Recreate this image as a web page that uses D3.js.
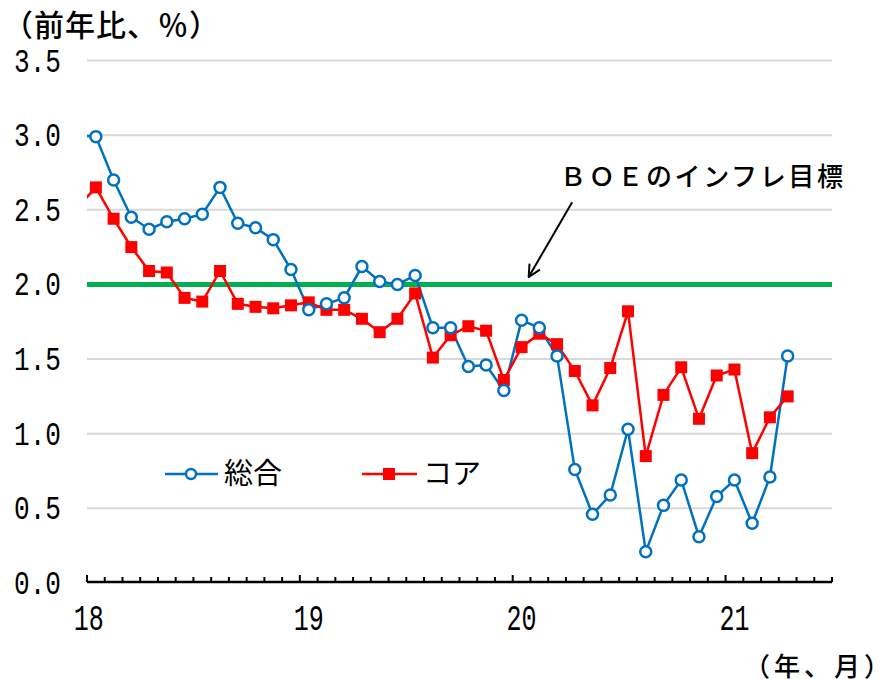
<!DOCTYPE html>
<html>
  <head>
    <meta charset="utf-8">
    <title>UK CPI</title>
    <script src="https://d3js.org/d3.v7.min.js"></script>
    <style>
      body { margin: 0; background: #fff; }
      .jp { font-family: "Noto Sans CJK JP", sans-serif; fill: #000; }
      .num { font-family: "Liberation Mono", monospace; fill: #000; }
    </style>
  </head>
  <body>
    <svg width="891" height="679"></svg>
    <script>
      // Months shown on the axis: Jan 2018 .. Jun 2021 (42 categories)
      var monthCount = 42;
      var yearLabels = ["18", "19", "20", "21"];
      var yTicks = [0, 0.5, 1.0, 1.5, 2.0, 2.5, 3.0, 3.5];

      // first value is Dec 2017 (drawn outside the plot and clipped)
      var headline = [3.00,
        2.99, 2.70, 2.45, 2.37, 2.42, 2.44, 2.47, 2.65, 2.41, 2.38, 2.30, 2.10,
        1.83, 1.87, 1.91, 2.12, 2.02, 2.00, 2.06, 1.71, 1.71, 1.45, 1.46, 1.29,
        1.76, 1.71, 1.52, 0.76, 0.46, 0.59, 1.03, 0.21, 0.52, 0.69, 0.31, 0.58,
        0.69, 0.40, 0.71, 1.52];
      var core = [2.52,
        2.65, 2.44, 2.25, 2.09, 2.08, 1.91, 1.885, 2.09, 1.87, 1.85, 1.84, 1.86,
        1.88, 1.83, 1.83, 1.77, 1.68, 1.77, 1.94, 1.51, 1.66, 1.72, 1.69, 1.36,
        1.58, 1.67, 1.60, 1.42, 1.19, 1.44, 1.82, 0.85, 1.26, 1.445, 1.10, 1.39,
        1.43, 0.87, 1.11, 1.25];
      var boeTarget = 2.0;

      var plotL = 87, plotR = 832, plotT = 60.5, plotB = 583;
      var svg = d3.select("svg");

      // index -1 = Dec 2017, 0 = Jan 2018 ...
      var x = d3.scaleLinear().domain([-0.5, monthCount - 0.5]).range([plotL, plotR]);
      var y = d3.scaleLinear().domain([0, 3.5]).range([plotB, plotT]);

      var defs = svg.append("defs");
      defs.append("clipPath").attr("id", "plot")
        .append("rect").attr("x", plotL).attr("y", 0).attr("width", plotR - plotL).attr("height", plotB);

      // gridlines
      svg.append("g").selectAll("line").data(yTicks.filter(function(d) { return d > 0; }))
        .enter().append("line")
        .attr("x1", plotL).attr("x2", plotR)
        .attr("y1", function(d) { return y(d); }).attr("y2", function(d) { return y(d); })
        .attr("stroke", "#d9d9d9").attr("stroke-width", 2);

      // y labels
      svg.append("g").selectAll("text").data(yTicks)
        .enter().append("text").attr("class", "num")
        .attr("x", 61).attr("y", function(d) { return y(d) + 11; })
        .attr("text-anchor", "end")
        .attr("font-size", 33)
        .attr("textLength", 47).attr("lengthAdjust", "spacingAndGlyphs")
        .text(function(d) { return d.toFixed(1); });

      // BOE target line
      svg.append("line")
        .attr("x1", plotL).attr("x2", plotR)
        .attr("y1", y(boeTarget)).attr("y2", y(boeTarget))
        .attr("stroke", "#00b050").attr("stroke-width", 5);

      // x axis
      var ax = svg.append("g");
      ax.append("line").attr("x1", plotL).attr("x2", plotR)
        .attr("y1", plotB - 1).attr("y2", plotB - 1)
        .attr("stroke", "#000").attr("stroke-width", 2.5);
      ax.selectAll("line.tk").data(d3.range(monthCount + 1))
        .enter().append("line").attr("class", "tk")
        .attr("x1", function(i) { return x(i - 0.5); }).attr("x2", function(i) { return x(i - 0.5); })
        .attr("y1", plotB - 1)
        .attr("y2", function(i) { return plotB - 1 - (i % 12 === 0 ? 7 : 5); })
        .attr("stroke", "#000").attr("stroke-width", 2);
      ax.selectAll("text").data(yearLabels)
        .enter().append("text").attr("class", "num")
        .attr("x", function(d, i) { return x(i * 12) - (i === 0 ? 7 : 0); })
        .attr("y", 630)
        .attr("text-anchor", "middle")
        .attr("font-size", 36)
        .attr("textLength", 30).attr("lengthAdjust", "spacingAndGlyphs")
        .text(function(d) { return d; });

      var line = d3.line()
        .x(function(d, i) { return x(i - 1); })
        .y(function(d) { return y(d); });

      var plot = svg.append("g").attr("clip-path", "url(#plot)");

      plot.append("path").datum(headline)
        .attr("d", line).attr("fill", "none")
        .attr("stroke", "#0070c0").attr("stroke-width", 2.5);
      plot.append("path").datum(core)
        .attr("d", line).attr("fill", "none")
        .attr("stroke", "#ff0000").attr("stroke-width", 2.5);

      plot.selectAll("rect.core").data(core)
        .enter().append("rect").attr("class", "core")
        .attr("x", function(d, i) { return x(i - 1) - 6; })
        .attr("y", function(d) { return y(d) - 6; })
        .attr("width", 12).attr("height", 12)
        .attr("fill", "#ff0000");

      plot.selectAll("circle.head").data(headline)
        .enter().append("circle").attr("class", "head")
        .attr("cx", function(d, i) { return x(i - 1); })
        .attr("cy", function(d) { return y(d); })
        .attr("r", 5.5)
        .attr("fill", "#fff").attr("stroke", "#0070c0").attr("stroke-width", 2.5);

      // legend
      var lg = svg.append("g");
      lg.append("line").attr("x1", 165).attr("x2", 218).attr("y1", 474).attr("y2", 474)
        .attr("stroke", "#0070c0").attr("stroke-width", 2.5);
      lg.append("circle").attr("cx", 191).attr("cy", 474).attr("r", 5)
        .attr("fill", "#fff").attr("stroke", "#0070c0").attr("stroke-width", 2.5);
      lg.append("text").attr("class", "jp").attr("x", 224).attr("y", 474)
        .attr("dy", "0.36em").attr("font-size", 29).text("総合");
      lg.append("line").attr("x1", 362).attr("x2", 417).attr("y1", 474).attr("y2", 474)
        .attr("stroke", "#ff0000").attr("stroke-width", 2.5);
      lg.append("rect").attr("x", 383).attr("y", 468).attr("width", 12).attr("height", 12)
        .attr("fill", "#ff0000");
      lg.append("text").attr("class", "jp").attr("x", 423).attr("y", 474)
        .attr("dy", "0.36em").attr("font-size", 29).text("コア");

      // annotation
      defs.append("marker").attr("id", "arr")
        .attr("viewBox", "0 0 14 14").attr("refX", 13).attr("refY", 7)
        .attr("markerWidth", 14).attr("markerHeight", 14)
        .attr("markerUnits", "userSpaceOnUse").attr("orient", "auto")
        .append("path").attr("d", "M1,1 L13,7 L1,13").attr("fill", "none")
        .attr("stroke", "#000").attr("stroke-width", 2);
      svg.append("line")
        .attr("x1", x(26.85)).attr("y1", y(2.55))
        .attr("x2", x(24.4)).attr("y2", y(2.05))
        .attr("stroke", "#000").attr("stroke-width", 2)
        .attr("marker-end", "url(#arr)");
      svg.append("text").attr("class", "jp")
        .attr("x", 560).attr("y", 177).attr("dy", "0.36em")
        .attr("font-size", 26).attr("font-weight", 500).attr("textLength", 283)
        .text("ＢＯＥのインフレ目標");

      // titles
      svg.append("text").attr("class", "jp")
        .attr("x", 3).attr("y", 25).attr("dy", "0.36em")
        .attr("font-size", 30).attr("font-weight", 500).attr("textLength", 216)
        .text("（前年比、％）");
      svg.append("text").attr("class", "jp")
        .attr("x", 744).attr("y", 667).attr("dy", "0.36em")
        .attr("font-size", 26).attr("font-weight", 500).attr("textLength", 146)
        .text("（年、月）");
    </script>
  </body>
</html>
